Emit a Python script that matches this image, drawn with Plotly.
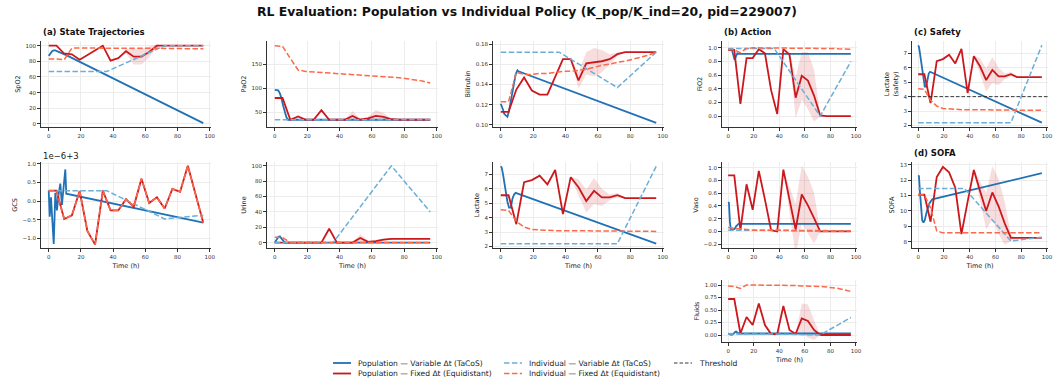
import plotly.graph_objects as go

W, H = 1053, 381

# ---------------- time grids ----------------
T_FIX = [0, 4.8, 9.6, 14.4, 19.2, 24, 28.8, 33.6, 38.4, 43.2, 48, 52.8, 57.6, 62.4, 67.2, 72, 76.8, 81.6, 86.4, 91.2, 96]
T_VAR = [0, 0.6, 1.4, 2.1, 3.1, 4.1, 5.1, 6.2, 7.2, 8.2, 9.2, 10.3, 10.9, 96]
T_IND = [0, 36, 72, 96]

# ---------------- SpO2 ----------------
SPO2_POP_VAR = [87, 89, 91, 93, 94, 94, 93, 92, 91, 90, 90, 89, 88, 1]
SPO2_POP_FIX = [100, 100, 90, 89, 82, 88, 94, 100, 81, 84, 93, 86, 86, 92, 100, 100, 100, 100, 100, 100, 100]
SPO2_POP_SD = [0, 0, 0, 0, 0, 0, 0, 0, 0, 0, 3, 10, 10, 7, 2, 0, 0, 0, 0, 0, 0]
SPO2_IND_VAR = [67, 67, 100, 100]
SPO2_IND_FIX = [83, 83, 82, 97, 97, 97, 97, 97, 97, 97, 97, 97, 97, 97, 97, 97, 96.5, 96.5, 96, 96, 96]

# ---------------- PaO2 ----------------
PAO2_POP_VAR = [97, 97, 97, 96, 90, 80, 65, 50, 40, 35, 35, 35, 35, 35]
PAO2_POP_FIX = [80, 80, 35, 42, 35, 35, 55, 35, 35, 35, 43, 35, 38, 43, 41, 36, 35, 35, 35, 35, 35]
PAO2_POP_SD = [0, 0, 0, 0, 0, 0, 0, 0, 0, 0, 10, 2, 3, 12, 8, 1, 0, 0, 0, 0, 0]
PAO2_IND_VAR = [35, 35, 35, 35]
PAO2_IND_FIX = [188, 187, 162, 138, 135, 134, 133, 132, 131, 130, 129, 128, 127, 126, 125, 124, 122, 120, 118, 115, 111]

# ---------------- Bilirubin ----------------
BILI_POP_VAR = [0.121, 0.119, 0.115, 0.111, 0.109, 0.108, 0.114, 0.124, 0.136, 0.145, 0.150, 0.154, 0.153, 0.102]
BILI_POP_FIX = [0.113, 0.113, 0.135, 0.147, 0.134, 0.130, 0.130, 0.148, 0.165, 0.165, 0.144, 0.161, 0.162, 0.163, 0.165, 0.170, 0.172, 0.172, 0.172, 0.172, 0.172]
BILI_POP_SD = [0, 0, 0, 0, 0, 0, 0, 0, 0, 0, 0.008, 0.011, 0.014, 0.011, 0.005, 0.002, 0, 0, 0, 0, 0]
BILI_IND_VAR = [0.172, 0.172, 0.137, 0.172]
BILI_IND_FIX = [0.123, 0.123, 0.152, 0.150, 0.150, 0.151, 0.151, 0.152, 0.153, 0.153, 0.154, 0.155, 0.157, 0.159, 0.160, 0.162, 0.163, 0.165, 0.167, 0.169, 0.172]

# ---------------- FiO2 ----------------
FIO2_POP_VAR = [0.98, 0.98, 0.98, 0.97, 0.96, 0.90, 0.82, 0.88, 0.92, 0.91, 0.91, 0.91, 0.91, 0.91]
FIO2_POP_FIX = [0.97, 0.97, 0.18, 0.85, 0.85, 0.98, 0.92, 0.38, 0.03, 0.98, 0.90, 0.27, 0.59, 0.52, 0.30, 0.01, 0.0, 0.0, 0.0, 0.0, 0.0]
FIO2_POP_SD = [0, 0, 0, 0, 0, 0, 0, 0, 0, 0, 0.05, 0.30, 0.35, 0.42, 0.38, 0.02, 0, 0, 0, 0, 0]
FIO2_IND_VAR = [0.99, 0.99, 0.0, 0.8]
FIO2_IND_FIX = [0.98, 0.97, 0.93, 0.99, 1.0, 1.0, 1.0, 1.0, 1.0, 1.0, 1.0, 1.0, 1.0, 1.0, 0.995, 0.99, 0.99, 0.99, 0.985, 0.98, 0.98]

# ---------------- Lactate ----------------
LAC_POP_VAR = [7.55, 7.45, 7.0, 6.5, 5.8, 5.1, 4.7, 4.7, 5.3, 5.6, 5.72, 5.68, 5.65, 2.2]
LAC_POP_FIX = [5.55, 5.55, 3.55, 6.45, 6.6, 6.9, 6.3, 7.3, 4.25, 6.8, 6.1, 5.15, 5.85, 5.4, 5.4, 5.55, 5.35, 5.35, 5.35, 5.35, 5.35]
LAC_POP_SD = [0, 0, 0, 0, 0, 0, 0, 0, 0, 0.05, 0.55, 0.8, 0.9, 0.6, 0.2, 0.15, 0.05, 0, 0, 0, 0]
LAC_IND_VAR = [2.2, 2.2, 2.2, 7.55]
LAC_IND_FIX = [4.55, 4.5, 3.75, 3.35, 3.18, 3.14, 3.12, 3.1, 3.1, 3.1, 3.1, 3.08, 3.07, 3.06, 3.05, 3.05, 3.05, 3.05, 3.05, 3.05, 3.05]
LAC_THRESHOLD = 4.0

# ---------------- GCS (offset from 3, units of 1e-6) ----------------
GCS_POP_VAR = [0.28, -0.42, 0.1, -0.42, -1.15, 0.22, -0.25, 0.2, 0.47, -0.1, 0.3, 0.85, 0.2, -0.58]
GCS_POP_FIX = [0.28, 0.28, -0.48, -0.38, 0.27, -0.8, -1.17, 0.28, -0.25, -0.25, 0.05, -0.15, 0.6, -0.05, 0.1, -0.2, 0.33, 0.25, 0.95, 0.18, -0.58]
GCS_POP_SD = [0] * 21
GCS_IND_VAR = [0.28, 0.28, -0.48, -0.38]
GCS_IND_FIX = [0.28, 0.28, -0.48, -0.38, 0.27, -0.8, -1.17, 0.28, -0.25, -0.25, 0.05, -0.15, 0.6, -0.05, 0.1, -0.2, 0.33, 0.25, 0.95, 0.18, -0.58]

# ---------------- Urine ----------------
URINE_POP_VAR = [0, 2, 5, 7, 8, 6, 3, 0, 0, 0, 0, 0, 0, 0]
URINE_POP_FIX = [0, 0, 0, 0, 0, 0, 0, 18, 0, 0, 0, 6, 1, 2, 4, 5, 5, 5, 5, 5, 5]
URINE_POP_SD = [0, 0, 0, 0, 0, 0, 0, 0, 0, 0, 0, 5, 1.5, 1.5, 1.5, 1, 0, 0, 0, 0, 0]
URINE_IND_VAR = [0, 0, 100, 40]
URINE_IND_FIX = [7, 6.5, 0, 0, 0, 0, 0, 0, 0, 0, 0, 0, 0, 0, 0, 0, 0, 0, 0, 0, 0]

# ---------------- Vaso ----------------
VASO_POP_VAR = [0.46, 0.45, 0.15, 0.03, 0.03, 0.03, 0.04, 0.08, 0.11, 0.12, 0.12, 0.12, 0.12, 0.12]
VASO_POP_FIX = [0.88, 0.88, 0.02, 0.74, 0.34, 0.95, 0.5, 0.02, 0.0, 0.97, 0.5, 0.03, 0.58, 0.41, 0.21, 0.0, 0.0, 0.0, 0.0, 0.0, 0.0]
VASO_POP_SD = [0, 0, 0, 0, 0, 0, 0, 0, 0, 0, 0.2, 0.4, 0.45, 0.45, 0.4, 0.0, 0, 0, 0, 0, 0]
VASO_IND_VAR = [0.02, 0.02, 0.0, 0.01]
VASO_IND_FIX = [0.06, 0.05, 0.03, 0.02, 0.02, 0.02, 0.02, 0.02, 0.02, 0.015, 0.015, 0.015, 0.01, 0.01, 0.01, 0.01, 0.01, 0.01, 0.01, 0.01, 0.01]

# ---------------- SOFA ----------------
SOFA_POP_VAR = [12.3, 12.25, 11.2, 10.2, 9.4, 9.25, 9.4, 9.8, 10.2, 10.4, 10.55, 10.7, 10.75, 12.45]
SOFA_POP_FIX = [11.05, 11.05, 9.3, 12.2, 12.85, 12.5, 11.5, 8.5, 10.6, 12.65, 11.3, 10.0, 11.2, 10.3, 9.2, 8.25, 8.25, 8.25, 8.25, 8.25, 8.25]
SOFA_POP_SD = [0, 0, 0, 0, 0, 0, 0, 0, 0, 0.1, 0.6, 1.2, 1.7, 1.8, 1.4, 0.2, 0, 0, 0, 0, 0]
SOFA_IND_VAR = [11.45, 11.45, 8.05, 8.3]
SOFA_IND_FIX = [11.05, 11.05, 10.2, 8.7, 8.58, 8.58, 8.58, 8.58, 8.58, 8.58, 8.58, 8.58, 8.58, 8.58, 8.58, 8.58, 8.58, 8.58, 8.58, 8.58, 8.58]

# ---------------- Fluids ----------------
FLUIDS_POP_VAR = [0.03, 0.02, 0.01, 0.01, 0.01, 0.02, 0.05, 0.07, 0.05, 0.03, 0.03, 0.03, 0.03, 0.03]
FLUIDS_POP_VAR_SD = [0.01, 0.02, 0.03, 0.03, 0.03, 0.03, 0.03, 0.03, 0.02, 0.01, 0.01, 0.01, 0.01, 0.01]
FLUIDS_POP_FIX = [0.72, 0.72, 0.03, 0.36, 0.2, 0.63, 0.2, 0.02, 0.02, 0.58, 0.1, 0.02, 0.33, 0.28, 0.1, 0.0, 0.0, 0.0, 0.0, 0.0, 0.0]
FLUIDS_POP_SD = [0, 0, 0, 0, 0, 0, 0, 0, 0, 0, 0, 0, 0.3, 0.33, 0.2, 0.0, 0, 0, 0, 0, 0]
FLUIDS_IND_VAR = [0.02, 0.02, 0.0, 0.35]
FLUIDS_IND_FIX = [0.98, 0.97, 0.93, 1.0, 1.0, 1.0, 1.0, 1.0, 0.99, 0.99, 0.99, 0.99, 0.98, 0.98, 0.98, 0.97, 0.96, 0.95, 0.93, 0.90, 0.87]

# ---------------- labels ----------------
LEG_POP_VAR = "Population — Variable Δt (TaCoS)"
LEG_POP_FIX = "Population — Fixed Δt (Equidistant)"
LEG_IND_VAR = "Individual — Variable Δt (TaCoS)"
LEG_IND_FIX = "Individual — Fixed Δt (Equidistant)"
LEG_THR = "Threshold"
TITLE = "RL Evaluation: Population vs Individual Policy (K_pop/K_ind=20, pid=229007)"

C_POP_VAR = "#2171b5"
C_POP_FIX = "#cb181d"
C_IND_VAR = "#6baed6"
C_IND_FIX = "#fb6a4a"
C_THR = "#222222"
BAND = "rgba(203,24,29,0.15)"
BAND_BLUE = "rgba(33,113,181,0.18)"

# column / row pixel extents of the axes boxes
COLS = [(41, 211), (267, 438), (493, 664), (722, 857), (912, 1048)]
ROWS = [(41, 127), (162, 248), (280, 342)]

PANELS = [
    (1, 0, 0, "SpO2", [-4, 106], [0, 20, 40, 60, 80, 100], "d", False,
     (SPO2_POP_VAR, None, SPO2_POP_FIX, SPO2_POP_SD, SPO2_IND_VAR, SPO2_IND_FIX)),
    (2, 0, 1, "PaO2", [20, 198], [50, 100, 150], "d", False,
     (PAO2_POP_VAR, None, PAO2_POP_FIX, PAO2_POP_SD, PAO2_IND_VAR, PAO2_IND_FIX)),
    (3, 0, 2, "Bilirubin", [0.098, 0.183], [0.10, 0.12, 0.14, 0.16, 0.18], ".2f", False,
     (BILI_POP_VAR, None, BILI_POP_FIX, BILI_POP_SD, BILI_IND_VAR, BILI_IND_FIX)),
    (4, 0, 3, "FiO2", [-0.16, 1.1], [0, 0.2, 0.4, 0.6, 0.8, 1.0], ".1f", False,
     (FIO2_POP_VAR, None, FIO2_POP_FIX, FIO2_POP_SD, FIO2_IND_VAR, FIO2_IND_FIX)),
    (5, 0, 4, "Lactate<br>(safety)", [1.9, 7.85], [2, 3, 4, 5, 6, 7], "d", False,
     (LAC_POP_VAR, None, LAC_POP_FIX, LAC_POP_SD, LAC_IND_VAR, LAC_IND_FIX)),
    (6, 1, 0, "GCS", [-1.26, 1.05], [-1.0, -0.5, 0, 0.5, 1.0], ".1f", True,
     (GCS_POP_VAR, None, GCS_POP_FIX, GCS_POP_SD, GCS_IND_VAR, GCS_IND_FIX)),
    (7, 1, 1, "Urine", [-7, 105], [0, 20, 40, 60, 80, 100], "d", True,
     (URINE_POP_VAR, None, URINE_POP_FIX, URINE_POP_SD, URINE_IND_VAR, URINE_IND_FIX)),
    (8, 1, 2, "Lactate", [1.9, 7.85], [2, 3, 4, 5, 6, 7], "d", True,
     (LAC_POP_VAR, None, LAC_POP_FIX, LAC_POP_SD, LAC_IND_VAR, LAC_IND_FIX)),
    (9, 1, 3, "Vaso", [-0.26, 1.09], [-0.2, 0, 0.2, 0.4, 0.6, 0.8, 1.0], ".1f", False,
     (VASO_POP_VAR, None, VASO_POP_FIX, VASO_POP_SD, VASO_IND_VAR, VASO_IND_FIX)),
    (10, 1, 4, "SOFA", [7.6, 13.17], [8, 9, 10, 11, 12, 13], "d", True,
     (SOFA_POP_VAR, None, SOFA_POP_FIX, SOFA_POP_SD, SOFA_IND_VAR, SOFA_IND_FIX)),
    (11, 2, 3, "Fluids", [-0.14, 1.1], [0, 0.25, 0.5, 0.75, 1.0], ".2f", True,
     (FLUIDS_POP_VAR, FLUIDS_POP_VAR_SD, FLUIDS_POP_FIX, FLUIDS_POP_SD, FLUIDS_IND_VAR, FLUIDS_IND_FIX)),
]

fig = go.Figure()
layout = {}

DASH = "5.5px,2.4px"
THR_DASH = "3.5px,2px"
FONT = "DejaVu Sans"


def band(x, m, s, color, xa, ya):
    up = [a + b for a, b in zip(m, s)]
    lo = [a - b for a, b in zip(m, s)]
    fig.add_trace(go.Scatter(x=list(x) + list(x)[::-1], y=up + lo[::-1], fill="toself",
                             fillcolor=color, line=dict(width=0), mode="lines",
                             hoverinfo="skip", showlegend=False, xaxis=xa, yaxis=ya))


for idx, r, c, ytitle, yr, tv, tf, xt, data in PANELS:
    pv, pv_sd, pf, pf_sd, iv, ifx = data
    xa = "x" if idx == 1 else f"x{idx}"
    ya = "y" if idx == 1 else f"y{idx}"
    x0, x1 = COLS[c]
    y0, y1 = ROWS[r]
    xkey = "xaxis" if idx == 1 else f"xaxis{idx}"
    ykey = "yaxis" if idx == 1 else f"yaxis{idx}"
    common = dict(showline=True, linecolor="#333", linewidth=1, ticks="outside", ticklen=3,
                  tickwidth=0.8, tickcolor="#333", showgrid=True, gridcolor="#ececec",
                  gridwidth=0.6, zeroline=False, automargin=False,
                  tickfont=dict(size=5.5, color="#333", family=FONT))
    layout[xkey] = dict(domain=[x0 / W, x1 / W], anchor=ya, range=[-4.8, 100.8],
                        tickvals=[0, 20, 40, 60, 80, 100],
                        title=dict(text="Time (h)" if xt else "", font=dict(size=6.5, color="#222", family=FONT), standoff=4),
                        **common)
    layout[ykey] = dict(domain=[1 - y1 / H, 1 - y0 / H], anchor=xa, range=yr, tickvals=tv,
                        tickformat=tf,
                        title=dict(text=ytitle, font=dict(size=6.5, color="#222", family=FONT), standoff=4),
                        **common)

    band(T_FIX, pf, pf_sd, BAND, xa, ya)
    if pv_sd is not None:
        band(T_VAR, pv, pv_sd, BAND_BLUE, xa, ya)
    fig.add_trace(go.Scatter(x=T_VAR, y=pv, mode="lines", line=dict(color=C_POP_VAR, width=1.8),
                             name=LEG_POP_VAR, showlegend=False, xaxis=xa, yaxis=ya))
    fig.add_trace(go.Scatter(x=T_FIX, y=pf, mode="lines", line=dict(color=C_POP_FIX, width=1.8),
                             name=LEG_POP_FIX, showlegend=False, xaxis=xa, yaxis=ya))
    fig.add_trace(go.Scatter(x=T_IND, y=iv, mode="lines", line=dict(color=C_IND_VAR, width=1.5, dash=DASH),
                             name=LEG_IND_VAR, showlegend=False, xaxis=xa, yaxis=ya))
    fig.add_trace(go.Scatter(x=T_FIX, y=ifx, mode="lines", line=dict(color=C_IND_FIX, width=1.5, dash=DASH),
                             name=LEG_IND_FIX, showlegend=False, xaxis=xa, yaxis=ya))
    if idx == 5:
        fig.add_trace(go.Scatter(x=[-4.8, 100.8], y=[LAC_THRESHOLD, LAC_THRESHOLD], mode="lines",
                                 line=dict(color=C_THR, width=0.9, dash=THR_DASH),
                                 name=LEG_THR, showlegend=False, xaxis=xa, yaxis=ya))

annotations = [
    dict(text=f"<b>{TITLE}</b>", x=0.5, y=1 - 12 / H, xref="paper", yref="paper", showarrow=False,
         xanchor="center", yanchor="middle", font=dict(size=12.4, color="#111", family=FONT)),
    dict(text="<b>(a) State Trajectories</b>", x=41 / W, y=1 - 32 / H, xref="paper", yref="paper",
         showarrow=False, xanchor="left", yanchor="middle", font=dict(size=8.5, color="#111", family=FONT)),
    dict(text="<b>(b) Action</b>", x=722 / W, y=1 - 32 / H, xref="paper", yref="paper",
         showarrow=False, xanchor="left", yanchor="middle", font=dict(size=8.5, color="#111", family=FONT)),
    dict(text="<b>(c) Safety</b>", x=912 / W, y=1 - 32 / H, xref="paper", yref="paper",
         showarrow=False, xanchor="left", yanchor="middle", font=dict(size=8.5, color="#111", family=FONT)),
    dict(text="<b>(d) SOFA</b>", x=912 / W, y=1 - 153 / H, xref="paper", yref="paper",
         showarrow=False, xanchor="left", yanchor="middle", font=dict(size=8.5, color="#111", family=FONT)),
    dict(text="1e−6+3", x=41 / W, y=1 - 155.5 / H, xref="paper", yref="paper",
         showarrow=False, xanchor="left", yanchor="middle", font=dict(size=8.5, color="#222", family=FONT)),
]

# ---- legend drawn as key lines + labels (matplotlib style, 3 columns) ----
LEGEND_ITEMS = [
    # (label, colour, width, dash, line x start px, row y px)
    (LEG_POP_VAR, C_POP_VAR, 1.8, "solid", 333, 363),
    (LEG_POP_FIX, C_POP_FIX, 1.8, "solid", 333, 373.5),
    (LEG_IND_VAR, C_IND_VAR, 1.5, DASH, 504, 363),
    (LEG_IND_FIX, C_IND_FIX, 1.5, DASH, 504, 373.5),
    (LEG_THR, C_THR, 0.9, THR_DASH, 674, 363),
]
shapes = []
for label, col, w, dash, lx, ly in LEGEND_ITEMS:
    shapes.append(dict(type="line", xref="paper", yref="paper", x0=lx / W, x1=(lx + 18) / W,
                       y0=1 - ly / H, y1=1 - ly / H, line=dict(color=col, width=w, dash=dash)))
    annotations.append(dict(text=label, x=(lx + 23) / W, y=1 - ly / H, xref="paper", yref="paper",
                            showarrow=False, xanchor="left", yanchor="middle",
                            font=dict(size=7.6, color="#222", family=FONT)))

fig.update_layout(
    width=W, height=H, margin=dict(l=0, r=0, t=0, b=0), autosize=False,
    paper_bgcolor="white", plot_bgcolor="white", showlegend=False,
    annotations=annotations, shapes=shapes,
    **layout,
)

fig.write_html("out.html")
